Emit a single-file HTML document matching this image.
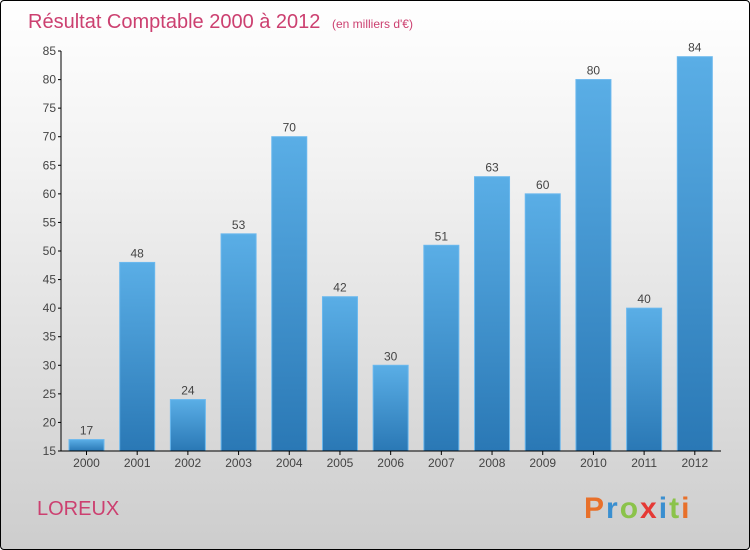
<!DOCTYPE html>
<html><head><meta charset="utf-8"><style>
body{margin:0}
#c{position:relative;width:748px;height:548px;border:1px solid #000;border-radius:4px;overflow:hidden;background:linear-gradient(#fff 0%,#f2f2f2 30%,#cdcdcd 100%);font-family:"Liberation Sans",sans-serif}
svg{position:absolute;left:0;top:0}
</style></head><body>
<div id="c">
<svg id="s" width="750" height="550">
<defs><linearGradient id="g" x1="0" y1="0" x2="0" y2="1"><stop offset="0" stop-color="#5aaee6"/><stop offset="1" stop-color="#2a78b5"/></linearGradient></defs>
<text x="27" y="27" font-size="20" fill="#cc4070">Résultat Comptable 2000 à 2012 <tspan font-size="12" dx="6">(en milliers d'€)</tspan></text>
<text x="36" y="514" font-size="20" fill="#cc4070">LOREUX</text>
<text x="583" y="517" font-size="30" font-weight="bold" letter-spacing="2"><tspan fill="#e8702a">P</tspan><tspan fill="#3a8fd0">r</tspan><tspan fill="#8bc34a">o</tspan><tspan fill="#e53935">x</tspan><tspan fill="#3a8fd0">i</tspan><tspan fill="#8bc34a">t</tspan><tspan fill="#e8702a">i</tspan></text>
</svg></div>
<script>
const categories=["2000","2001","2002","2003","2004","2005","2006","2007","2008","2009","2010","2011","2012"];
const values=[17,48,24,53,70,42,30,51,63,60,80,40,84];
const yTicks=[15,20,25,30,35,40,45,50,55,60,65,70,75,80,85];
const s=document.getElementById('s');
const NS='http://www.w3.org/2000/svg';
const x0=60,x1=719,yMin=15,yMax=85,py0=450,py1=50;
const band=(x1-x0)/categories.length;
const y=v=>py0-(v-yMin)/(yMax-yMin)*(py0-py1);
function mk(t,a){const e=document.createElementNS(NS,t);for(const k in a)e.setAttribute(k,a[k]);s.appendChild(e);return e;}
categories.forEach((c,i)=>{
 const bx=x0+i*band+8,w=35;
 const r=mk('rect',{x:bx,y:y(values[i]),width:w,height:py0-y(values[i]),fill:'url(#g)',stroke:'#6ab8ee','stroke-width':1});
 
 
 const t=mk('text',{x:bx+w/2,y:y(values[i])-5,'font-size':12,fill:'#444','text-anchor':'middle'});
 t.textContent=values[i];
 
 
 const xl=mk('text',{x:bx+w/2,y:466,'font-size':12,fill:'#444','text-anchor':'middle'});
 xl.textContent=c;
 
 
 mk('line',{x1:bx+w/2,x2:bx+w/2,y1:450,y2:454,stroke:'#000'});
});
yTicks.forEach(v=>{
 mk('line',{x1:57,x2:60,y1:y(v),y2:y(v),stroke:'#000'});
 const t=mk('text',{x:55,y:y(v)+4,'font-size':12,fill:'#444','text-anchor':'end'});
 t.textContent=v;
 
 
});
const ya=mk('line',{x1:60,x2:60,y1:50,y2:450,stroke:'#000'});


const xa=mk('line',{x1:60,x2:720,y1:450,y2:450,stroke:'#000'});


</script>
</body></html>
